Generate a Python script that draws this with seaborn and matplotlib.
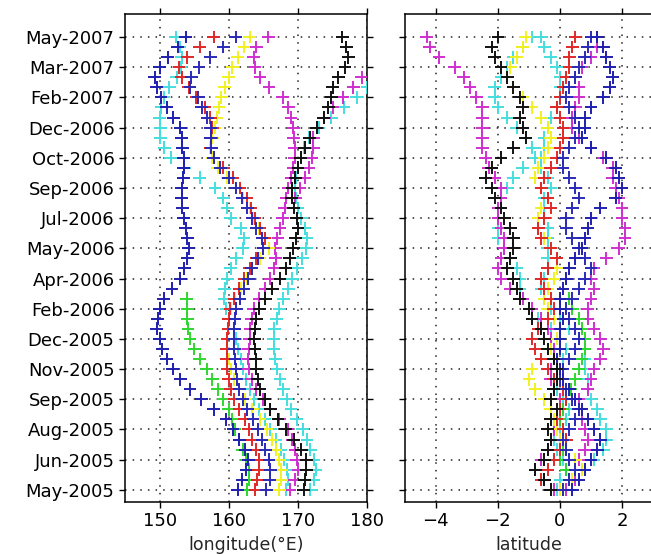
import numpy as np
import pandas as pd
import seaborn as sns
import matplotlib.pyplot as plt

# Подписи дат на оси Y (одна подпись на каждые 3 отсчёта)
date_labels = ['May-2005', 'Jun-2005', 'Aug-2005', 'Sep-2005', 'Nov-2005', 'Dec-2005',
               'Feb-2006', 'Apr-2006', 'May-2006', 'Jul-2006', 'Sep-2006', 'Oct-2006',
               'Dec-2006', 'Feb-2007', 'Mar-2007', 'May-2007']

# Долгота (°E) по отсчётам
lon = {
    'cyan1': [171.8, 172.3, 172.6, 172.3, 171.8, 171.3, 170.7, 169.8, 169.0, 168.4,
              167.9, 167.4, 167.0, 166.7, 166.5, 166.5, 166.6, 166.9, 167.3, 167.9,
              168.6, 169.2, 169.9, 170.6, 171.2, 171.3, 171.0, 170.5, 170.0, 169.7,
              169.6, 169.7, 170.0, 170.4, 170.9, 171.6, 173.0, 174.8, 176.6, 178.5, 180.0],
    'cyan2': [168.3, 168.6, 168.4, 168.0, 167.5, 166.8, 166.0, 165.2, 164.3, 163.6,
              163.0, 162.5, 162.1, 161.7, 161.3, 161.0, 160.7, 160.0, 159.6, 159.3,
              159.4, 159.8, 160.3, 161.1, 162.0, 162.2, 161.7, 160.3, 159.8, 159.2,
              158.0, 155.8, 153.6, 151.6, 150.7, 150.1, 150.1, 150.0, 150.2, 150.6,
              151.4, 152.5, 153.1, 153.2, 152.9, 152.3],
    'magenta1': [168.8, 169.5, 170.0, 169.8, 169.6, 169.2, 168.5, 167.3, 166.0, 165.0,
                 164.0, 163.3, 162.9, 162.8, 162.9, 163.0, 163.1, 163.3, 163.6, 164.4,
                 165.3, 166.0, 166.6, 166.8, 166.7, 167.0, 167.4, 167.8, 168.1, 168.3,
                 168.6, 169.0, 169.3, 169.5, 169.5, 169.4, 169.3, 169.0, 168.6, 167.8,
                 165.8, 164.5, 163.8, 163.6, 164.0, 165.7],
    'magenta2': [169.6, 170.3, 171.0, 171.6, 172.0, 172.2, 172.2, 172.8, 173.8, 175.0,
                 176.5, 178.0, 179.2],
    'green': [162.6, 162.9, 162.9, 162.5, 162.0, 161.5, 160.9, 160.4, 160.0, 159.2,
              158.4, 157.6, 156.8, 155.8, 155.0, 154.4, 154.1, 154.0, 154.0, 153.9],
    'yellow': [167.3, 167.6, 167.6, 167.3, 166.8, 166.2, 165.5, 164.5, 163.4, 162.4,
               161.5, 160.8, 160.3, 160.0, 159.8, 159.8, 159.9, 160.0, 160.3, 160.9,
               161.8, 162.7, 163.3, 164.5, 165.8, 165.3, 164.3, 163.6, 163.0, 162.0,
               161.0, 159.8, 158.4, 157.6, 157.3, 157.6, 158.0, 158.3, 158.6, 158.9,
               159.4, 160.0, 160.5, 161.3, 162.2, 163.0],
    'red': [163.8, 164.1, 164.3, 164.3, 163.9, 163.4, 162.9, 162.3, 161.5, 160.8,
            160.3, 160.0, 159.8, 159.7, 159.7, 159.8, 159.9, 160.0, 160.2, 160.8,
            161.5, 162.2, 163.0, 164.0, 165.0, 165.2, 164.5, 163.8, 163.2, 162.6,
            161.6, 160.6, 159.2, 157.8, 157.4, 157.5, 157.6, 157.3, 156.5, 155.3,
            154.2, 153.2, 152.8, 154.0, 155.8, 157.8],
    'blue2': [165.4, 165.9, 166.0, 165.8, 165.3, 164.8, 164.2, 163.5, 162.7, 162.0,
              161.5, 161.2, 161.0, 160.9, 160.8, 160.8, 160.8, 160.9, 161.1, 161.6,
              162.2, 162.8, 163.3, 164.2, 165.0, 164.8, 164.0, 163.4, 162.7, 161.9,
              161.0, 160.0, 158.8, 157.8, 157.5, 157.4, 157.4, 156.9, 156.1, 155.6,
              154.4, 154.6, 155.7, 157.3, 159.2, 161.0],
    'blue1': [161.3, 161.9, 162.5, 162.8, 162.4, 161.5, 160.6, 159.6, 157.8, 156.0,
              154.4, 153.0, 151.9, 151.0, 150.4, 150.0, 149.6, 149.7, 150.0, 150.6,
              151.8, 153.0, 153.6, 154.0, 154.2, 154.0, 153.8, 153.5, 153.3, 153.2,
              153.2, 153.4, 153.5, 153.5, 153.3, 153.2, 153.0, 152.0, 151.0, 150.2,
              149.6, 149.3, 150.0, 151.2, 152.6, 153.8],
    'black': [170.8, 171.0, 171.2, 171.2, 170.5, 169.4, 168.2, 167.1, 166.0, 165.2,
              164.5, 164.2, 164.0, 163.9, 163.8, 163.7, 163.8, 164.0, 164.4, 165.3,
              166.3, 167.4, 168.2, 168.8, 169.3, 169.7, 170.0, 169.8, 169.4, 169.1,
              169.2, 169.6, 170.0, 170.4, 171.0, 171.7, 172.7, 173.7, 174.4, 174.8,
              175.0, 175.8, 176.8, 177.3, 177.0, 176.4],
}
lon_first = {'magenta2': 29}  # номер первого отсчёта для неполных рядов

# Широта по отсчётам
lat = {
    'cyan1': [0.2, 0.5, 0.8, 1.1, 1.4, 1.5, 1.5, 1.3, 1.2, 1.0, 0.9, 0.9, 0.8, 0.8, 0.8, 0.6,
              0.3, 0.0, -0.3, -0.5, -0.6, -0.5, -0.4, -0.4, -0.4, -0.4, -0.4, -0.5, -0.5, -0.5,
              -0.3, -0.4, -0.6, -0.6, -0.5, -0.5, -0.4, -0.3, -0.1, 0.0, 0.0, 0.0, -0.1, -0.3,
              -0.5, -0.6],
    'cyan2': [-0.1, 0.0, 0.2, 0.1, -0.1, -0.2, 0.0, 0.2, 0.3, 0.1, -0.1, -0.2, -0.1, 0.1, 0.2,
              0.0, -0.3, -0.7, -1.0, -1.2, -1.3, -1.3, -1.4, -1.6, -1.8, -2.0, -2.0, -2.0, -2.0,
              -1.9, -1.7, -1.5, -1.2, -0.8, -0.9, -1.1, -1.4, -1.7, -2.0, -2.1, -2.1, -1.9,
              -1.7, -1.5, -1.2, -0.9],
    'magenta1': [0.2, 0.5, 0.7, 0.6, 0.8, 0.9, 0.8, 0.7, 0.6, 0.6, 0.9, 1.0, 1.1, 1.3, 1.4,
                 1.3, 1.1, 0.9, 0.9, 1.0, 1.1, 1.0, 1.1, 1.5, 1.9, 2.1, 2.1, 2.0, 2.0, 1.9,
                 1.8, 1.7, 1.7, 1.4, 1.0, 0.6, 0.4, 0.4, 0.5, 0.6, 0.6, 0.5, 0.7, 1.0, 1.2, 1.2],
    'magenta2': [-0.2, -0.5, -0.8, -0.6, -0.4, -0.3, -0.2, 0.0, 0.1, 0.0, -0.2, -0.3, -0.3,
                 -0.2, -0.2, -0.3, -0.4, -0.6, -0.9, -1.2, -1.6, -1.9, -2.0, -1.9, -1.8, -1.8,
                 -1.9, -2.0, -2.0, -1.9, -1.9, -2.1, -2.3, -2.4, -2.5, -2.5, -2.5, -2.5, -2.5,
                 -2.7, -2.9, -3.1, -3.4, -3.9, -4.2, -4.3],
    'green': [0.1, 0.3, 0.2, 0.0, 0.1, 0.2, 0.1, 0.0, 0.1, 0.2, 0.35, 0.5, 0.6, 0.7, 0.8,
              0.8, 0.7, 0.6, 0.4, 0.3],
    'yellow': [0.0, 0.4, 0.7, 0.5, 0.2, 0.0, -0.1, -0.2, -0.3, -0.5, -0.8, -1.0, -0.9, -0.6,
               -0.3, -0.1, 0.0, -0.2, -0.4, -0.5, -0.4, -0.2, -0.1, -0.1, -0.3, -0.5, -0.7,
               -0.7, -0.6, -0.4, -0.6, -0.8, -0.7, -0.5, -0.4, -0.3, -0.4, -0.6, -0.9, -1.2,
               -1.5, -1.7, -1.6, -1.4, -1.2, -1.1],
    'red': [-0.3, -0.6, -0.4, -0.2, 0.0, 0.2, 0.1, -0.1, 0.0, 0.2, 0.1, -0.2, -0.4, -0.6, -0.8,
            -0.9, -0.7, -0.4, -0.2, -0.3, -0.5, -0.6, -0.4, -0.1, -0.3, -0.6, -0.7, -0.5, -0.3,
            -0.4, -0.6, -0.5, -0.3, -0.1, 0.0, 0.1, 0.1, 0.0, -0.1, 0.0, 0.1, 0.2, 0.3, 0.3,
            0.4, 0.5],
    'blue2': [0.1, 0.3, 0.5, 0.3, 0.2, 0.1, 0.3, 0.5, 0.6, 0.4, 0.2, 0.0, 0.1, 0.3, 0.5, 0.6,
              0.5, 0.3, 0.2, 0.4, 0.6, 0.8, 1.0, 0.8, 0.6, 0.4, 0.2, 0.2, 0.4, 0.6, 0.5, 0.3,
              0.1, 0.1, 0.3, 0.5, 0.6, 0.5, 0.3, 0.2, 0.3, 0.5, 0.6, 0.8, 0.9, 1.0],
    'blue1': [0.4, 0.6, 0.8, 1.0, 1.2, 1.3, 1.1, 0.9, 0.7, 0.5, 0.3, 0.1, 0.0, -0.1, 0.0, 0.0,
              0.0, 0.1, 0.0, 0.0, 0.1, 0.2, 0.3, 0.5, 0.7, 0.8, 0.9, 1.0, 1.3, 1.8, 2.0, 1.9,
              1.8, 1.5, 1.0, 0.7, 0.8, 0.8, 1.0, 1.4, 1.6, 1.7, 1.6, 1.5, 1.4, 1.2],
    'black': [-0.3, -0.5, -0.8, -0.5, -0.4, -0.3, -0.4, -0.3, -0.1, -0.3, -0.2, -0.1, -0.1,
              -0.2, -0.4, -0.5, -0.6, -0.9, -1.0, -1.3, -1.4, -1.5, -1.7, -1.6, -1.5, -1.5,
              -1.6, -1.8, -1.9, -2.1, -2.2, -2.4, -2.2, -1.9, -1.5, -1.1, -1.2, -1.3, -1.2,
              -1.3, -1.5, -1.7, -1.9, -2.1, -2.2, -2.0],
}

# Цвета рядов (как в MATLAB: b, g, r, c, m, y, k)
colors = {'blue1': '#1f1fb0', 'blue2': '#2a2ab8', 'green': '#2fd62f', 'red': '#e02828',
          'cyan1': '#45dede', 'cyan2': '#45dede', 'magenta1': '#d02fd0',
          'magenta2': '#d02fd0', 'yellow': '#f2f020', 'black': '#111111'}


def long_frame(table, first):
    parts = []
    for name, vals in table.items():
        start = first.get(name, 0)
        parts.append(pd.DataFrame({'series': name,
                                   'sample': np.arange(start, start + len(vals)),
                                   'value': vals}))
    return pd.concat(parts, ignore_index=True)


df_lon = long_frame(lon, lon_first)
df_lat = long_frame(lat, {})

sns.set_theme(style='ticks')
plt.rcParams['font.family'] = ['DejaVu Sans']

fig = plt.figure(figsize=(6.51, 5.54), dpi=100)
ax1 = fig.add_axes([0.192, 0.094, 0.372, 0.881])
ax2 = fig.add_axes([0.622, 0.094, 0.381, 0.881])

for ax, df in [(ax1, df_lon), (ax2, df_lat)]:
    sns.scatterplot(data=df, x='value', y='sample', hue='series', palette=colors,
                    marker='+', s=85, linewidth=1.4, legend=False, ax=ax, zorder=3)
    ax.set_yticks(np.arange(0, 46, 3))
    ax.set_ylim(-1.2, 47.3)
    ax.grid(True, linestyle=(0, (1, 4)), color='#222222', linewidth=1.1)
    ax.set_axisbelow(True)
    ax.tick_params(direction='out', top=True, right=True, length=4, width=1,
                   labelsize=13, colors='black')
    for sp in ax.spines.values():
        sp.set_color('black')
        sp.set_linewidth(1.1)
    ax.set_ylabel('')

ax1.set_yticklabels(date_labels)
ax1.set_xlim(145, 180)
ax1.set_xticks([150, 160, 170, 180])
ax1.set_xlabel('longitude(°E)', fontsize=12.5, labelpad=4)

ax2.set_yticklabels([])
ax2.set_xlim(-5, 3)
ax2.set_xticks([-4, -2, 0, 2])
ax2.set_xlabel('latitude', fontsize=12.5, labelpad=4)

fig.savefig('out.png', dpi=100)
